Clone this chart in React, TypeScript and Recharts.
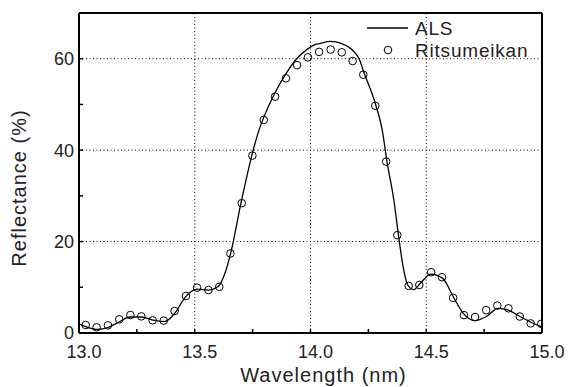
import { ComposedChart, Line, Scatter, XAxis, YAxis, ReferenceLine } from 'recharts'

// ALS reflectance curve (wavelength nm / reflectance %)
const alsWavelength = [
  13.0, 13.04, 13.08, 13.13, 13.17, 13.22, 13.27, 13.32, 13.37, 13.415,
  13.46, 13.51, 13.56, 13.6, 13.63, 13.655, 13.7, 13.75, 13.775, 13.8,
  13.845, 13.895, 13.94, 13.99, 14.02, 14.04, 14.085, 14.135, 14.185, 14.21,
  14.23, 14.28, 14.31, 14.33, 14.36, 14.38, 14.4, 14.42, 14.445, 14.475,
  14.52, 14.57, 14.62, 14.66, 14.71, 14.76, 14.81, 14.855, 14.905, 14.955, 15.0,
]
const alsReflectance = [
  2.0, 1.2, 0.8, 1.3, 2.3, 3.5, 3.5, 2.8, 2.5, 4.4,
  7.9, 9.6, 9.4, 10.1, 13.0, 17.4, 28.5, 39.5, 44.0, 47.4,
  52.4, 56.8, 60.0, 62.2, 63.1, 63.3, 63.8, 63.3, 61.7, 60.0,
  57.1, 50.2, 44.4, 37.6, 29.1, 21.4, 14.5, 10.5, 9.5, 10.9,
  12.9, 12.0, 7.6, 4.3, 2.7, 3.6, 5.4, 5.0, 3.6, 2.3, 1.3,
]

// Ritsumeikan measured points
const ritsWavelength = [
  13.029, 13.076, 13.125, 13.174, 13.222, 13.269, 13.318, 13.366, 13.413, 13.462,
  13.51, 13.559, 13.606, 13.654, 13.703, 13.749, 13.798, 13.847, 13.894, 13.942,
  13.989, 14.037, 14.087, 14.135, 14.182, 14.228, 14.28, 14.327, 14.375, 14.424,
  14.47, 14.521, 14.568, 14.616, 14.663, 14.711, 14.759, 14.807, 14.855, 14.904,
  14.951, 14.997,
]
const ritsReflectance = [
  1.75, 1.24, 1.68, 2.99, 3.93, 3.64, 2.77, 2.7, 4.81, 8.09,
  9.91, 9.4, 10.1, 17.4, 28.4, 38.8, 46.6, 51.7, 55.7, 58.6,
  60.3, 61.5, 62.0, 61.4, 59.5, 56.5, 49.7, 37.5, 21.4, 10.3,
  10.5, 13.3, 12.2, 7.7, 3.9, 3.5, 5.0, 6.0, 5.4, 3.6,
  2.1, 2.0,
]

const xTicks = [13, 13.25, 13.5, 13.75, 14, 14.25, 14.5, 14.75, 15]
const yTicks = [0, 10, 20, 30, 40, 50, 60, 70]
const xGrid = [13.5, 14, 14.5]
const yGrid = [20, 40, 60]

const alsData = alsWavelength.map((x, i) => ({ x, y: alsReflectance[i] }))
const ritsData = ritsWavelength.map((x, i) => ({ x, y: ritsReflectance[i] }))

const FONT = '"Liberation Sans", Arial, sans-serif'
const axisLine = { stroke: '#000', strokeWidth: 2 }
const tickLine = { stroke: '#000', strokeWidth: 1.5 }
const tickStyle = { fontSize: 18, fill: '#222', fontFamily: FONT }

const xFmt = (v: number) => (Math.abs(v * 2 - Math.round(v * 2)) < 1e-6 ? v.toFixed(1) : '')
const yFmt = (v: number) => (v % 20 === 0 && v < 70 ? String(v) : '')

const OpenCircle = (props: any) => (
  <circle cx={props.cx} cy={props.cy} r={3.8} fill="none" stroke="#000" strokeWidth={1} />
)

const LegendBox = () => (
  <svg width={180} height={50} style={{ overflow: 'visible' }}>
    <line x1={7} y1={18} x2={48} y2={18} stroke="#000" strokeWidth={1.5} />
    <text x={55} y={25} fontSize={19} fill="#222" fontFamily={FONT} letterSpacing={0.8}>ALS</text>
    <circle cx={28} cy={40} r={3.8} fill="none" stroke="#000" />
    <text x={55} y={47} fontSize={19} fill="#222" fontFamily={FONT} letterSpacing={0.8}>Ritsumeikan</text>
  </svg>
)

export default function App() {
  return (
    <div style={{ position: 'absolute', left: 0, top: 0, background: '#fff' }}>
      <ComposedChart width={576} height={387} margin={{ top: 0, right: 0, bottom: 0, left: 0 }}>
        <XAxis
          dataKey="x"
          type="number"
          domain={[13, 15]}
          ticks={xTicks}
          interval={0}
          allowDataOverflow
          height={54}
          axisLine={axisLine}
          tickLine={tickLine}
          tickSize={-4}
          tickMargin={16}
          tick={{ ...tickStyle, dx: 5 }}
          tickFormatter={xFmt}
          label={(p: any) => (
            <text
              x={p.viewBox.x + p.viewBox.width / 2 + 13}
              y={p.viewBox.y + 49}
              textAnchor="middle"
              fontSize={20}
              letterSpacing={1}
              fill="#222"
              fontFamily={FONT}
            >
              Wavelength (nm)
            </text>
          )}
        />
        <XAxis
          xAxisId="top"
          orientation="top"
          type="number"
          domain={[13, 15]}
          ticks={xTicks}
          interval={0}
          height={13}
          axisLine={axisLine}
          tickLine={tickLine}
          tickSize={-4}
          tickFormatter={() => ''}
        />
        <YAxis
          dataKey="y"
          type="number"
          domain={[0, 70]}
          ticks={yTicks}
          interval={0}
          allowDataOverflow
          width={79}
          axisLine={axisLine}
          tickLine={tickLine}
          tickSize={-4}
          tickMargin={9}
          tick={tickStyle}
          tickFormatter={yFmt}
          label={(p: any) => (
            <text
              x={p.viewBox.x + 26}
              y={p.viewBox.y + p.viewBox.height / 2 + 15}
              transform={`rotate(-90 ${p.viewBox.x + 26} ${p.viewBox.y + p.viewBox.height / 2 + 15})`}
              textAnchor="middle"
              fontSize={20}
              letterSpacing={1}
              fill="#222"
              fontFamily={FONT}
            >
              Reflectance (%)
            </text>
          )}
        />
        <YAxis
          yAxisId="right"
          orientation="right"
          type="number"
          domain={[0, 70]}
          ticks={yTicks}
          interval={0}
          width={34}
          axisLine={axisLine}
          tickLine={tickLine}
          tickSize={-4}
          tickFormatter={() => ''}
        />
        {xGrid.map((v) => (
          <ReferenceLine key={`gx${v}`} x={v} stroke="#000" strokeWidth={1} strokeDasharray="1 2.5" />
        ))}
        {yGrid.map((v) => (
          <ReferenceLine key={`gy${v}`} y={v} stroke="#000" strokeWidth={1} strokeDasharray="1 2.5" />
        ))}
        <Line
          data={alsData}
          dataKey="y"
          type="monotone"
          stroke="#000"
          strokeWidth={1.3}
          dot={false}
          isAnimationActive={false}
          name="ALS"
        />
        <Scatter data={ritsData} dataKey="y" shape={OpenCircle} isAnimationActive={false} name="Ritsumeikan" />
      </ComposedChart>
      <div style={{ position: 'absolute', left: 360, top: 10 }}>
        <LegendBox />
      </div>
    </div>
  )
}
